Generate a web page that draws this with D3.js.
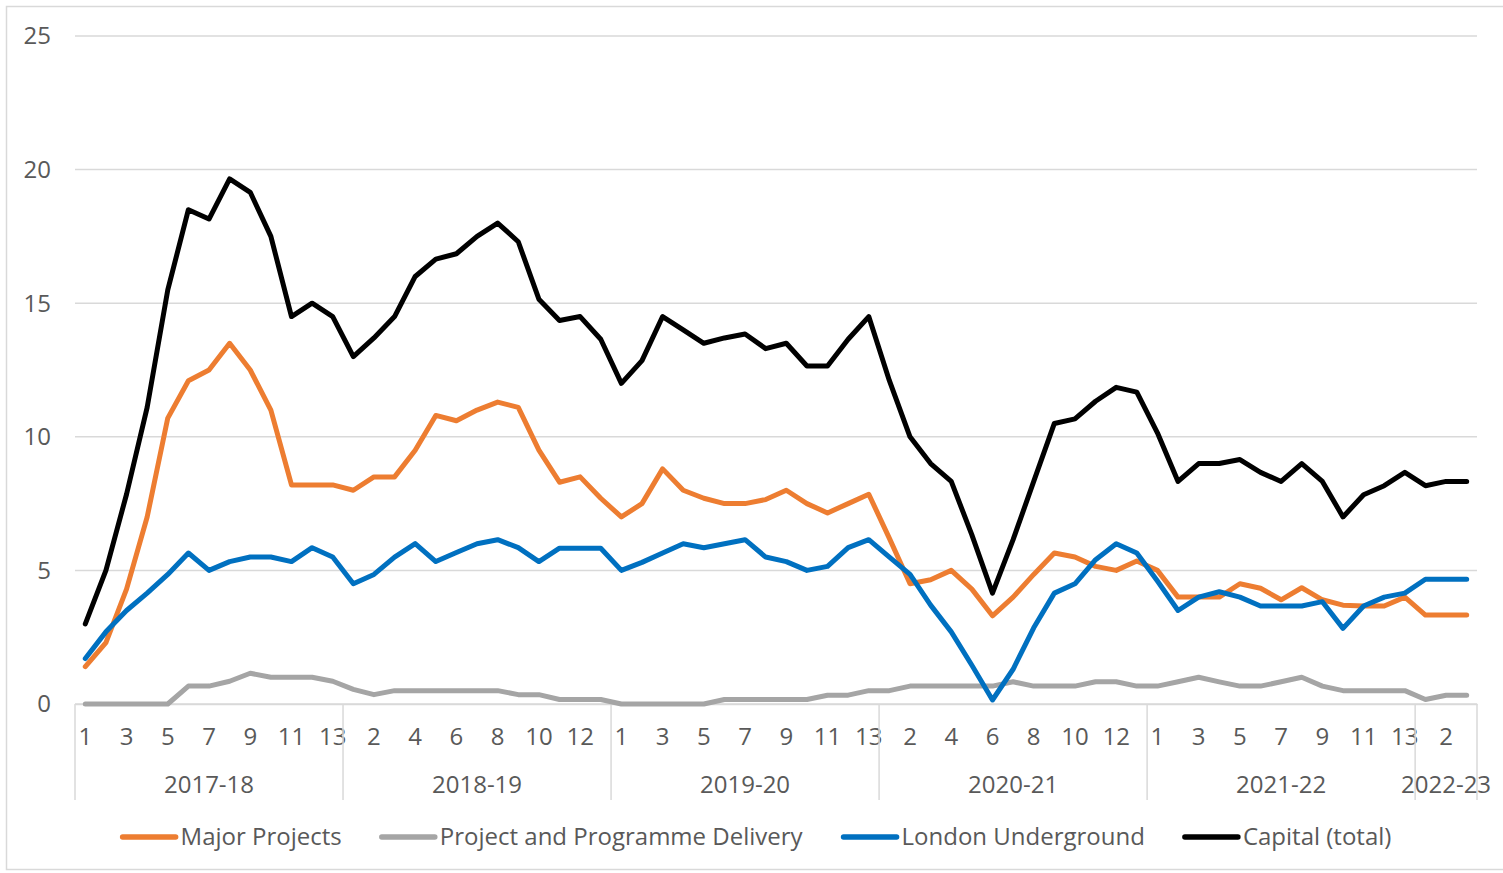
<!DOCTYPE html>
<html>
<head>
<meta charset="utf-8">
<script src="https://cdn.jsdelivr.net/npm/d3@7/dist/d3.min.js"></script>
<style>
  body { margin: 0; background: #fff; }
  svg text { font-family: "Open Sans", "Noto Sans", sans-serif; fill: #595959; }
</style>
</head>
<body>
<svg id="chart" width="1503" height="873"></svg>
<script>
// financial years and the number of periods shown for each
var years = ["2017-18", "2018-19", "2019-20", "2020-21", "2021-22", "2022-23"];
var periodsPerYear = [13, 13, 13, 13, 13, 3];

var yTicks = [0, 5, 10, 15, 20, 25];

var seriesNames = ["Major Projects", "Project and Programme Delivery", "London Underground", "Capital (total)"];
var seriesColours = ["#ed7d31", "#a5a5a5", "#0070c0", "#000000"];

var majorProjects = [
    1.4, 2.3, 4.3, 7.0, 10.7, 12.1, 12.5, 13.5, 12.5, 11.0, 8.2, 8.2, 8.2, 8.0,
    8.5, 8.5, 9.5, 10.8, 10.6, 11.0, 11.3, 11.1, 9.5, 8.3, 8.5, 7.7, 7.0,
    7.5, 8.8, 8.0, 7.7, 7.5, 7.5, 7.65, 8.0, 7.5, 7.15, 7.5, 7.85, 6.2,
    4.5, 4.65, 5.0, 4.3, 3.3, 4.0, 4.85, 5.65, 5.5, 5.15, 5.0, 5.35, 5.0,
    4.0, 4.0, 4.0, 4.5, 4.33, 3.9, 4.35, 3.9, 3.7, 3.67, 3.67, 4.0, 3.33, 3.33, 3.33
];
var programmeDelivery = [
    0, 0, 0, 0, 0, 0.67, 0.67, 0.85, 1.15, 1.0, 1.0, 1.0, 0.85, 0.55,
    0.35, 0.5, 0.5, 0.5, 0.5, 0.5, 0.5, 0.35, 0.35, 0.17, 0.17, 0.17, 0,
    0, 0, 0, 0, 0.17, 0.17, 0.17, 0.17, 0.17, 0.33, 0.33, 0.5, 0.5,
    0.67, 0.67, 0.67, 0.67, 0.67, 0.83, 0.67, 0.67, 0.67, 0.83, 0.83, 0.67, 0.67,
    0.83, 1.0, 0.83, 0.67, 0.67, 0.83, 1.0, 0.67, 0.5, 0.5, 0.5, 0.5, 0.17, 0.33, 0.33
];
var londonUnderground = [
    1.7, 2.7, 3.5, 4.15, 4.85, 5.65, 5.0, 5.33, 5.5, 5.5, 5.33, 5.85, 5.5, 4.5,
    4.85, 5.5, 6.0, 5.33, 5.67, 6.0, 6.15, 5.85, 5.33, 5.83, 5.83, 5.83, 5.0,
    5.3, 5.65, 6.0, 5.85, 6.0, 6.15, 5.5, 5.33, 5.0, 5.15, 5.85, 6.15, 5.5,
    4.85, 3.7, 2.7, 1.45, 0.15, 1.3, 2.85, 4.15, 4.5, 5.4, 6.0, 5.65, 4.6,
    3.5, 4.0, 4.2, 4.0, 3.67, 3.67, 3.67, 3.83, 2.83, 3.67, 4.0, 4.15, 4.67, 4.67, 4.67
];
var capitalTotal = [
    3.0, 5.0, 7.85, 11.1, 15.5, 18.5, 18.15, 19.65, 19.15, 17.5, 14.5, 15.0, 14.5, 13.0,
    13.7, 14.5, 16.0, 16.65, 16.85, 17.5, 18.0, 17.3, 15.15, 14.35, 14.5, 13.65, 12.0,
    12.85, 14.5, 14.0, 13.5, 13.7, 13.85, 13.3, 13.5, 12.65, 12.65, 13.65, 14.5, 12.1,
    10.0, 9.0, 8.33, 6.33, 4.15, 6.15, 8.33, 10.5, 10.67, 11.33, 11.85, 11.67, 10.15,
    8.33, 9.0, 9.0, 9.15, 8.67, 8.33, 9.0, 8.33, 7.0, 7.83, 8.17, 8.67, 8.17, 8.33, 8.33
];

var seriesValues = [majorProjects, programmeDelivery, londonUnderground, capitalTotal];

// build the flat category list (year, period)
var categories = [];
years.forEach(function (yr, yi) {
    for (var p = 1; p <= periodsPerYear[yi]; p++) {
        categories.push({ year: yr, period: p, index: categories.length });
    }
});

var svg = d3.select("#chart");
var plotLeft = 75, plotRight = 1477, plotTop = 36, plotBottom = 704;

var x = d3.scaleBand()
    .domain(categories.map((d) => d.index))
    .range([plotLeft, plotRight])
    .padding(0);

var y = d3.scaleLinear()
    .domain([0, 25])
    .range([plotBottom, plotTop]);

// chart area border
svg.append("rect")
    .attr("x", 6.5).attr("y", 6.5)
    .attr("width", 1510).attr("height", 863)
    .attr("fill", "none")
    .attr("stroke", "#d9d9d9")
    .attr("stroke-width", 1.5);

// gridlines
svg.append("g")
    .selectAll("line")
    .data(yTicks)
    .enter()
    .append("line")
    .attr("x1", plotLeft).attr("x2", plotRight)
    .attr("y1", (d) => y(d)).attr("y2", (d) => y(d))
    .attr("stroke", "#d9d9d9")
    .attr("stroke-width", 1.5);

// y labels
svg.append("g")
    .selectAll("text")
    .data(yTicks)
    .enter()
    .append("text")
    .attr("x", 51)
    .attr("y", (d) => y(d))
    .attr("dy", "0.35em")
    .attr("text-anchor", "end")
    .style("font-size", "24px")
    .text((d) => d);

// x axis: period labels every second category
var xAxis = d3.axisBottom(x)
    .tickValues(categories.filter((d) => d.index % 2 == 0).map((d) => d.index))
    .tickFormat((i) => categories[i].period)
    .tickSize(0)
    .tickPadding(0);

var gx = svg.append("g")
    .attr("transform", "translate(0," + plotBottom + ")")
    .call(xAxis);
gx.select(".domain").attr("stroke", "#d9d9d9").attr("stroke-width", 1.5);
gx.selectAll("text")
    .attr("y", 33)
    .attr("dy", "0.35em")
    .style("font-size", "24px")
    .attr("fill", "#595959");
gx.attr("font-family", null).attr("font-size", null);

// year group separators and labels
var groups = [];
var start = 0;
years.forEach(function (yr, yi) {
    groups.push({ year: yr, first: start, last: start + periodsPerYear[yi] - 1 });
    start += periodsPerYear[yi];
});

var separators = groups.map((g) => x(g.first)).concat([plotRight]);
svg.append("g")
    .selectAll("line")
    .data(separators)
    .enter()
    .append("line")
    .attr("x1", (d) => d).attr("x2", (d) => d)
    .attr("y1", plotBottom).attr("y2", 800)
    .attr("stroke", "#d9d9d9")
    .attr("stroke-width", 1.5);

svg.append("g")
    .selectAll("text")
    .data(groups)
    .enter()
    .append("text")
    .attr("x", (g) => (x(g.first) + x(g.last) + x.bandwidth()) / 2)
    .attr("y", 785)
    .attr("dy", "0.35em")
    .attr("text-anchor", "middle")
    .style("font-size", "24px")
    .text((g) => g.year);

// lines
var line = d3.line()
    .x((d, i) => x(i) + x.bandwidth() / 2)
    .y((d) => y(d));

svg.append("g")
    .selectAll("path")
    .data(seriesValues)
    .enter()
    .append("path")
    .attr("d", line)
    .attr("fill", "none")
    .attr("stroke", (d, i) => seriesColours[i])
    .attr("stroke-width", 5)
    .attr("stroke-linejoin", "round")
    .attr("stroke-linecap", "round");

// legend
var legend = svg.append("g");
var items = legend.selectAll("g")
    .data(seriesNames)
    .enter()
    .append("g");
items.append("line")
    .attr("x1", 0).attr("x2", 53)
    .attr("y1", 0).attr("y2", 0)
    .attr("stroke", (d, i) => seriesColours[i])
    .attr("stroke-width", 5.5)
    .attr("stroke-linecap", "round");
items.append("text")
    .attr("x", 58)
    .attr("y", 0)
    .attr("dy", "0.35em")
    .style("font-size", "24px")
    .text((d) => d);

var gap = 40;
var cursor = 0;
var offsets = [];
items.each(function () {
    offsets.push(cursor);
    cursor += this.getBBox().width + gap;
});
cursor -= gap;
var legendLeft = 757 - cursor / 2;
items.attr("transform", (d, i) => "translate(" + (legendLeft + offsets[i]) + ",837)");
</script>
</body>
</html>
